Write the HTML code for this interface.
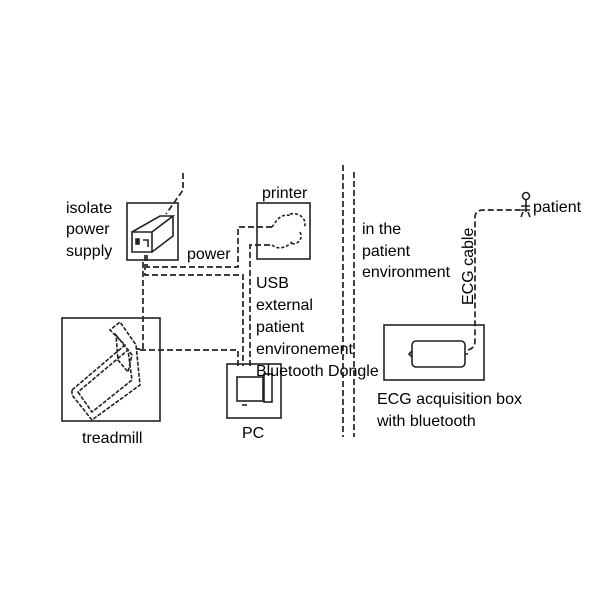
<!DOCTYPE html>
<html><head><meta charset="utf-8"><style>
html,body{margin:0;padding:0;background:#fff;}
svg{display:block;}
text{font-family:"Liberation Sans",Arial,sans-serif;font-size:16px;fill:#000;}
</style></head><body>
<svg width="614" height="614" viewBox="0 0 614 614" xmlns="http://www.w3.org/2000/svg">
<g fill="none" stroke="#222" stroke-width="1.6">
<rect x="127" y="203" width="51" height="57"/>
<path d="M132 232 L152 232 L152 252 L132 252 Z M132 232 L160 216 L173 216 L152 232 M173 216 L173 236 L152 252"/>
<rect x="136" y="239" width="3" height="5" fill="#222"/>
<path d="M143 240 h5 v7" />
<rect x="257" y="203" width="53" height="56"/>
<path d="M272 227 C276 222 280 212 292 216 M290 214 C300 212 308 220 304 228 M300 232 C304 240 296 246 290 243 M272 245 C278 250 286 248 292 242" stroke-dasharray="3 2"/>
<rect x="62" y="318" width="98" height="103"/>
<path d="M72 390 L125 345 L110 330 L120 322 L136 345 L140 385 L92 420 L72 395 Z M78 392 L92 412 L132 380 L128 350 Z M116 335 L132 355 L128 372 L118 360 Z" stroke-dasharray="4 1.5"/>
<rect x="227" y="364" width="54" height="54"/>
<rect x="237" y="377" width="26" height="24"/>
<rect x="264" y="374" width="8" height="28"/>
<path d="M242 405 h5"/>
<rect x="384" y="325" width="100" height="55"/>
<rect x="412" y="341" width="53" height="26" rx="4"/>
<path d="M412 351 l-3 3 l3 3 M465 354 h3"/>
</g>
<g fill="none" stroke="#222" stroke-width="1.7" stroke-dasharray="6 3">
<path d="M183 173 L183 190 L166 214"/>
<path d="M147 255 L147 267 L238 267 L238 227 L272 227"/>
<path d="M145 255 L145 275 L243 275 L243 366"/>
<path d="M250 366 L250 245 L272 245"/>
<path d="M143 262 L143 349 L136 349"/>
<path d="M140 350 L238 350 L238 366"/>
<path d="M343 165 L343 437"/>
<path d="M354 172 L354 437"/>
<path d="M468 350 C474 348 475 345 475 340 L475 218 C475 212 478 210 484 210 L523 210"/>
</g>
<g stroke="#222" stroke-width="1.6" fill="none">
<circle cx="526" cy="196" r="3.5"/>
<path d="M526 200 v12 M521 206 h9 M521 210 h9 M523 212 l-2 5 M528 212 l2 5"/>
</g>
<text x="66" y="213">isolate</text>
<text x="66" y="234">power</text>
<text x="66" y="256">supply</text>
<text x="262" y="198">printer</text>
<text x="187" y="259">power</text>
<text x="256" y="288">USB</text>
<text x="256" y="310">external</text>
<text x="256" y="332">patient</text>
<text x="256" y="354">environement</text>
<text x="256" y="376">Bluetooth Dongle</text>
<text x="82" y="443">treadmill</text>
<text x="242" y="438">PC</text>
<text x="362" y="234">in the</text>
<text x="362" y="256">patient</text>
<text x="362" y="277">environment</text>
<text x="533" y="212">patient</text>
<text x="377" y="404">ECG acquisition box</text>
<text x="377" y="426">with bluetooth</text>
<text transform="translate(473,305) rotate(-90)">ECG cable</text>
</svg>
</body></html>
